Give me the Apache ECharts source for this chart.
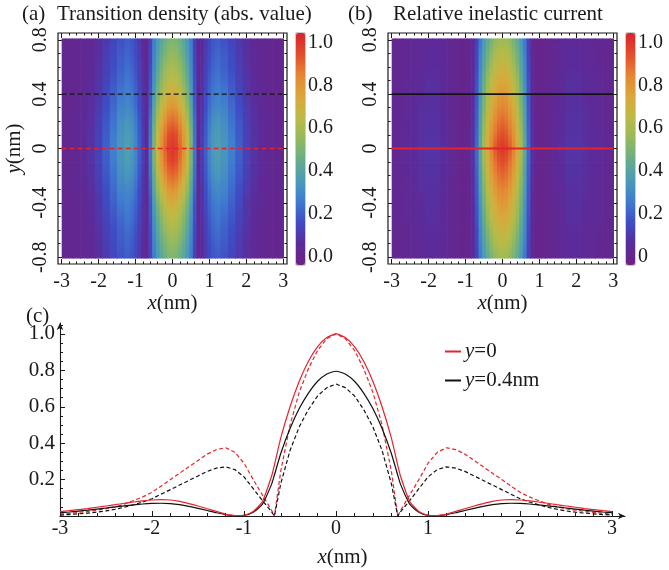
<!DOCTYPE html>
<html><head><meta charset="utf-8">
<script src="https://cdn.jsdelivr.net/npm/echarts@6/dist/echarts.min.js"></script>
<style>html,body{margin:0;padding:0;background:#fff}#c{width:669px;height:570px}</style>
</head><body><div id="c"></div>
<script>
// ---------------- data ----------------
const heatX = [-3,-2.8,-2.6,-2.4,-2.2,-2,-1.8,-1.6,-1.4,-1.2,-1.1,-1,-0.9,-0.8,-0.7,-0.6,-0.5,-0.4,-0.3,-0.2,-0.1,0,0.1,0.2,0.3,0.4,0.5,0.6,0.7,0.8,0.9,1,1.1,1.2,1.4,1.6,1.8,2,2.2,2.4,2.6,2.8,3];
const heatY = [-0.8,-0.7,-0.6,-0.5,-0.4,-0.3,-0.2,-0.1,0,0.1,0.2,0.3,0.4,0.5,0.6,0.7,0.8];
// transition density |rho|(x,y), one row per heatY value
const densityRows = [
[.01,.01,.02,.03,.04,.07,.10,.14,.17,.19,.18,.15,.10,.06,.02,.13,.26,.35,.41,.46,.50,.51,.50,.46,.41,.35,.26,.13,.02,.06,.10,.15,.18,.19,.17,.14,.10,.07,.04,.03,.02,.01,.01],
[.01,.01,.02,.03,.05,.07,.11,.15,.19,.21,.19,.16,.11,.06,.02,.14,.28,.37,.45,.50,.54,.55,.54,.50,.45,.37,.28,.14,.02,.06,.11,.16,.19,.21,.19,.15,.11,.07,.05,.03,.02,.01,.01],
[.01,.01,.02,.03,.05,.08,.12,.16,.20,.23,.21,.17,.12,.07,.02,.15,.30,.41,.49,.55,.59,.60,.59,.55,.49,.41,.30,.15,.02,.07,.12,.17,.21,.23,.20,.16,.12,.08,.05,.03,.02,.01,.01],
[.01,.01,.02,.03,.06,.09,.13,.18,.22,.25,.23,.19,.13,.08,.02,.17,.33,.45,.53,.60,.64,.66,.64,.60,.53,.45,.33,.17,.02,.08,.13,.19,.23,.25,.22,.18,.13,.09,.06,.03,.02,.01,.01],
[.01,.01,.02,.04,.06,.09,.15,.20,.25,.27,.25,.21,.15,.08,.02,.18,.36,.49,.59,.66,.71,.73,.71,.66,.59,.49,.36,.18,.02,.08,.15,.21,.25,.27,.25,.20,.15,.09,.06,.04,.02,.01,.01],
[.01,.02,.03,.04,.07,.11,.16,.22,.28,.30,.28,.23,.16,.09,.02,.20,.41,.55,.66,.74,.79,.81,.79,.74,.66,.55,.41,.20,.02,.09,.16,.23,.28,.30,.28,.22,.16,.11,.07,.04,.03,.02,.01],
[.01,.02,.03,.05,.08,.12,.18,.24,.31,.34,.32,.26,.18,.10,.03,.23,.45,.61,.73,.82,.88,.90,.88,.82,.73,.61,.45,.23,.03,.10,.18,.26,.32,.34,.31,.24,.18,.12,.08,.05,.03,.02,.01],
[.01,.02,.03,.05,.08,.13,.19,.26,.33,.36,.34,.28,.19,.11,.03,.24,.49,.66,.79,.88,.95,.97,.95,.88,.79,.66,.49,.24,.03,.11,.19,.28,.34,.36,.33,.26,.19,.13,.08,.05,.03,.02,.01],
[.01,.02,.03,.05,.09,.13,.20,.27,.34,.38,.35,.29,.20,.12,.03,.25,.50,.68,.81,.91,.98,1.00,.98,.91,.81,.68,.50,.25,.03,.12,.20,.29,.35,.38,.34,.27,.20,.13,.09,.05,.03,.02,.01],
[.01,.02,.03,.05,.08,.13,.19,.26,.33,.36,.34,.28,.19,.11,.03,.24,.49,.66,.79,.88,.95,.97,.95,.88,.79,.66,.49,.24,.03,.11,.19,.28,.34,.36,.33,.26,.19,.13,.08,.05,.03,.02,.01],
[.01,.02,.03,.05,.08,.12,.18,.24,.31,.34,.32,.26,.18,.10,.03,.23,.45,.61,.73,.82,.88,.90,.88,.82,.73,.61,.45,.23,.03,.10,.18,.26,.32,.34,.31,.24,.18,.12,.08,.05,.03,.02,.01],
[.01,.02,.03,.04,.07,.11,.16,.22,.28,.30,.28,.23,.16,.09,.02,.20,.41,.55,.66,.74,.79,.81,.79,.74,.66,.55,.41,.20,.02,.09,.16,.23,.28,.30,.28,.22,.16,.11,.07,.04,.03,.02,.01],
[.01,.01,.02,.04,.06,.09,.15,.20,.25,.27,.25,.21,.15,.08,.02,.18,.36,.49,.59,.66,.71,.73,.71,.66,.59,.49,.36,.18,.02,.08,.15,.21,.25,.27,.25,.20,.15,.09,.06,.04,.02,.01,.01],
[.01,.01,.02,.03,.06,.09,.13,.18,.22,.25,.23,.19,.13,.08,.02,.17,.33,.45,.53,.60,.64,.66,.64,.60,.53,.45,.33,.17,.02,.08,.13,.19,.23,.25,.22,.18,.13,.09,.06,.03,.02,.01,.01],
[.01,.01,.02,.03,.05,.08,.12,.16,.20,.23,.21,.17,.12,.07,.02,.15,.30,.41,.49,.55,.59,.60,.59,.55,.49,.41,.30,.15,.02,.07,.12,.17,.21,.23,.20,.16,.12,.08,.05,.03,.02,.01,.01],
[.01,.01,.02,.03,.05,.07,.11,.15,.19,.21,.19,.16,.11,.06,.02,.14,.28,.37,.45,.50,.54,.55,.54,.50,.45,.37,.28,.14,.02,.06,.11,.16,.19,.21,.19,.15,.11,.07,.05,.03,.02,.01,.01],
[.01,.01,.02,.03,.04,.07,.10,.14,.17,.19,.18,.15,.10,.06,.02,.13,.26,.35,.41,.46,.50,.51,.50,.46,.41,.35,.26,.13,.02,.06,.10,.15,.18,.19,.17,.14,.10,.07,.04,.03,.02,.01,.01]
];
// relative inelastic current (x,y), one row per heatY value
const currentRows = [
[.01,.02,.03,.04,.04,.05,.05,.04,.02,.01,0,0,.01,.05,.13,.25,.35,.43,.49,.54,.57,.58,.57,.54,.49,.43,.35,.25,.13,.05,.01,0,0,.01,.02,.04,.05,.05,.04,.04,.03,.02,.01],
[.02,.02,.03,.04,.05,.06,.06,.04,.03,.01,0,0,.02,.05,.14,.28,.38,.47,.54,.60,.63,.64,.63,.60,.54,.47,.38,.28,.14,.05,.02,0,0,.01,.03,.04,.06,.06,.05,.04,.03,.02,.02],
[.02,.02,.03,.04,.05,.06,.06,.05,.03,.01,0,0,.02,.06,.15,.30,.41,.51,.59,.64,.68,.69,.68,.64,.59,.51,.41,.30,.15,.06,.02,0,0,.01,.03,.05,.06,.06,.05,.04,.03,.02,.02],
[.02,.03,.04,.05,.06,.07,.07,.05,.03,.01,0,0,.02,.06,.17,.32,.45,.56,.64,.70,.74,.75,.74,.70,.64,.56,.45,.32,.17,.06,.02,0,0,.01,.03,.05,.07,.07,.06,.05,.04,.03,.02],
[.02,.03,.04,.05,.06,.07,.07,.05,.03,.01,0,0,.02,.06,.18,.34,.48,.59,.68,.74,.78,.80,.78,.74,.68,.59,.48,.34,.18,.06,.02,0,0,.01,.03,.05,.07,.07,.06,.05,.04,.03,.02],
[.02,.03,.04,.05,.07,.07,.07,.06,.03,.01,0,0,.02,.07,.19,.37,.51,.63,.72,.79,.83,.85,.83,.79,.72,.63,.51,.37,.19,.07,.02,0,0,.01,.03,.06,.07,.07,.07,.05,.04,.03,.02],
[.02,.03,.04,.06,.07,.08,.08,.06,.04,.01,0,0,.02,.07,.20,.39,.54,.67,.77,.84,.88,.90,.88,.84,.77,.67,.54,.39,.20,.07,.02,0,0,.01,.04,.06,.08,.08,.07,.06,.04,.03,.02],
[.02,.03,.05,.06,.07,.08,.08,.06,.04,.01,0,0,.02,.08,.21,.41,.57,.70,.81,.88,.93,.95,.93,.88,.81,.70,.57,.41,.21,.08,.02,0,0,.01,.04,.06,.08,.08,.07,.06,.05,.03,.02],
[.02,.04,.05,.06,.08,.09,.09,.07,.04,.01,0,0,.03,.08,.22,.43,.60,.74,.85,.93,.98,1.00,.98,.93,.85,.74,.60,.43,.22,.08,.03,0,0,.01,.04,.07,.09,.09,.08,.06,.05,.04,.02],
[.02,.03,.05,.06,.07,.08,.08,.06,.04,.01,0,0,.02,.08,.21,.41,.57,.70,.81,.88,.93,.95,.93,.88,.81,.70,.57,.41,.21,.08,.02,0,0,.01,.04,.06,.08,.08,.07,.06,.05,.03,.02],
[.02,.03,.04,.06,.07,.08,.08,.06,.04,.01,0,0,.02,.07,.20,.39,.54,.67,.77,.84,.88,.90,.88,.84,.77,.67,.54,.39,.20,.07,.02,0,0,.01,.04,.06,.08,.08,.07,.06,.04,.03,.02],
[.02,.03,.04,.05,.07,.07,.07,.06,.03,.01,0,0,.02,.07,.19,.37,.51,.63,.72,.79,.83,.85,.83,.79,.72,.63,.51,.37,.19,.07,.02,0,0,.01,.03,.06,.07,.07,.07,.05,.04,.03,.02],
[.02,.03,.04,.05,.06,.07,.07,.05,.03,.01,0,0,.02,.06,.18,.34,.48,.59,.68,.74,.78,.80,.78,.74,.68,.59,.48,.34,.18,.06,.02,0,0,.01,.03,.05,.07,.07,.06,.05,.04,.03,.02],
[.02,.03,.04,.05,.06,.07,.07,.05,.03,.01,0,0,.02,.06,.17,.32,.45,.56,.64,.70,.74,.75,.74,.70,.64,.56,.45,.32,.17,.06,.02,0,0,.01,.03,.05,.07,.07,.06,.05,.04,.03,.02],
[.02,.02,.03,.04,.05,.06,.06,.05,.03,.01,0,0,.02,.06,.15,.30,.41,.51,.59,.64,.68,.69,.68,.64,.59,.51,.41,.30,.15,.06,.02,0,0,.01,.03,.05,.06,.06,.05,.04,.03,.02,.02],
[.02,.02,.03,.04,.05,.06,.06,.04,.03,.01,0,0,.02,.05,.14,.28,.38,.47,.54,.60,.63,.64,.63,.60,.54,.47,.38,.28,.14,.05,.02,0,0,.01,.03,.04,.06,.06,.05,.04,.03,.02,.02],
[.01,.02,.03,.04,.04,.05,.05,.04,.02,.01,0,0,.01,.05,.13,.25,.35,.43,.49,.54,.57,.58,.57,.54,.49,.43,.35,.25,.13,.05,.01,0,0,.01,.02,.04,.05,.05,.04,.04,.03,.02,.01]
];
// cut lines (y levels) shown on the maps
const cutLevels = [0.4, 0];
const cutXRange = [-3, 3];
// panel (c) profiles
const lineX = [-3,-2.9,-2.8,-2.7,-2.6,-2.5,-2.4,-2.3,-2.2,-2.1,-2,-1.9,-1.8,-1.7,-1.6,-1.5,-1.4,-1.3,-1.2,-1.1,-1,-0.9,-0.8,-0.7,-0.67,-0.6,-0.5,-0.4,-0.3,-0.2,-0.1,0,0.1,0.2,0.3,0.4,0.5,0.6,0.67,0.7,0.8,0.9,1,1.1,1.2,1.3,1.4,1.5,1.6,1.7,1.8,1.9,2,2.1,2.2,2.3,2.4,2.5,2.6,2.7,2.8,2.9,3];
const currentY0 = [.024,.029,.035,.041,.048,.055,.062,.070,.077,.083,.088,.090,.088,.080,.068,.055,.040,.025,.010,.002,.004,.025,.080,.220,.280,.430,.600,.740,.850,.930,.980,1.000,.980,.930,.850,.740,.600,.430,.280,.220,.080,.025,.004,.002,.010,.025,.040,.055,.068,.080,.088,.090,.088,.083,.077,.070,.062,.055,.048,.041,.035,.029,.024];
const densityY0 = [.010,.014,.020,.025,.032,.040,.050,.065,.085,.105,.130,.165,.200,.235,.270,.305,.340,.365,.375,.350,.290,.200,.115,.030,.000,.250,.500,.680,.810,.910,.975,1.000,.975,.910,.810,.680,.500,.250,.000,.030,.115,.200,.290,.350,.375,.365,.340,.305,.270,.235,.200,.165,.130,.105,.085,.065,.050,.040,.032,.025,.020,.014,.010];
const currentY04 = [.018,.022,.027,.032,.038,.044,.050,.056,.061,.066,.069,.070,.068,.062,.053,.042,.030,.018,.008,.002,.003,.020,.065,.175,.225,.345,.480,.590,.675,.740,.780,.795,.780,.740,.675,.590,.480,.345,.225,.175,.065,.020,.003,.002,.008,.018,.030,.042,.053,.062,.068,.070,.069,.066,.061,.056,.050,.044,.038,.032,.027,.022,.018];
const densityY04 = [.005,.008,.012,.016,.021,.028,.037,.048,.062,.077,.095,.120,.145,.170,.195,.220,.245,.263,.270,.255,.215,.150,.085,.022,.000,.180,.360,.490,.585,.660,.705,.725,.705,.660,.585,.490,.360,.180,.000,.022,.085,.150,.215,.255,.270,.263,.245,.220,.195,.170,.145,.120,.095,.077,.062,.048,.037,.028,.021,.016,.012,.008,.005];
// tick labels
const mapXTicks = [-3,-2,-1,0,1,2,3];
const mapYTicks = [-0.8,-0.4,0,0.4,0.8];
const barTicks = [0,0.2,0.4,0.6,0.8,1.0];
const cXTicks = [-3,-2,-1,0,1,2,3];
const cYTicks = [0.2,0.4,0.6,0.8,1.0];
const legendNames = ['y=0','y=0.4nm'];

// ---------------- rendering ----------------
const FONT = "'Liberation Serif','Times New Roman',serif";
const INK = '#1a1a1a';
const RED = '#E5232B';
const RAINBOW = ['#6E2184','#5B2B9A','#3F4BC4','#3F7BD0','#4A9BB8','#67AD8A','#94BA5C','#BEBA45','#DAA73B','#E58533','#E24D2C','#D8232A'];
function steps(a,b,s){const r=[];for(let k=0;a+k*s<=b+1e-9;k++)r.push(Math.round((a+k*s)*1000)/1000);return r;}
function without(all,major){return all.filter(v=>!major.some(m=>Math.abs(m-v)<1e-6));}
function edges(vals,lo,hi){return vals.map((v,i)=>[i===0?lo:(vals[i-1]+v)/2, i===vals.length-1?hi:(v+vals[i+1])/2]);}
const xAxes=[], yAxes=[];
function tickAxis(list,gridIndex,pos,min,max,ticks,len,extra){
  list.push(Object.assign({
    type:'value',gridIndex,position:pos,min,max,
    axisLine:{show:false,onZero:false},
    axisTick:{show:true,inside:true,length:len,customValues:ticks,lineStyle:{color:INK,width:1}},
    axisLabel:{show:false},splitLine:{show:false},minorTick:{show:false}
  },extra||{}));
  return list.length-1;
}
const lbl = (size,extra)=>Object.assign({show:true,fontFamily:FONT,fontSize:size,color:INK},extra||{});
const nameStyle = {fontFamily:FONT,fontSize:21,color:INK,rich:{i:{fontFamily:FONT,fontSize:21,fontStyle:'italic',color:INK}}};

const grids = [
  {left:58,top:33,width:229,height:231},
  {left:388,top:33,width:229,height:231},
  {left:296,top:33,width:9,height:232},
  {left:626,top:33,width:9,height:232},
  {left:60,top:323,width:565,height:193}
].map(g=>Object.assign({show:false,containLabel:false,outerBoundsMode:'none'},g));
[0,1].forEach(i=>Object.assign(grids[i],{show:true,borderColor:INK,borderWidth:1.2}));
[2,3].forEach(i=>Object.assign(grids[i],{show:true,borderColor:'#555',borderWidth:0.6}));

const mapXMinor = without(steps(-3,3,0.2),mapXTicks);
const mapYMinor = without(steps(-0.8,0.8,0.1),mapYTicks);
const mapAx = [];
[0,1].forEach(g=>{
  const xi = tickAxis(xAxes,g,'bottom',-3.1,3.1,mapXTicks,5,{
    axisLabel:lbl(20,{customValues:mapXTicks,margin:8,formatter:v=>String(v)}),
    name:'{i|x}(nm)',nameLocation:'middle',nameGap:28,nameTextStyle:nameStyle});
  tickAxis(xAxes,g,'bottom',-3.1,3.1,mapXMinor,2.5);
  tickAxis(xAxes,g,'top',-3.1,3.1,mapXTicks,5);
  tickAxis(xAxes,g,'top',-3.1,3.1,mapXMinor,2.5);
  const yExtra = {axisLabel:lbl(20,{customValues:mapYTicks,margin:7,rotate:90,formatter:v=>v===0?'0':v.toFixed(1)})};
  if(g===0){Object.assign(yExtra,{name:'{i|y}(nm)',nameLocation:'middle',nameGap:33,nameRotate:90,nameTextStyle:nameStyle});}
  const yi = tickAxis(yAxes,g,'left',-0.85,0.85,mapYTicks,5,yExtra);
  tickAxis(yAxes,g,'left',-0.85,0.85,mapYMinor,2.5);
  tickAxis(yAxes,g,'right',-0.85,0.85,mapYTicks,5);
  tickAxis(yAxes,g,'right',-0.85,0.85,mapYMinor,2.5);
  mapAx.push([xi,yi]);
});
[2,3].forEach((g,k)=>{
  tickAxis(xAxes,g,'bottom',0,1,[],0,{axisTick:{show:false}});
  tickAxis(yAxes,g,'right',-0.04,1.045,barTicks,0,{axisTick:{show:false},
    axisLabel:lbl(20,{customValues:barTicks,margin:3,formatter:v=>k===0?v.toFixed(1):(v===0?'0':v.toFixed(1))})});
});
const cx = tickAxis(xAxes,4,'bottom',-3,3.14,cXTicks,5,{
  axisLine:{show:true,onZero:false,symbol:['none','arrow'],symbolSize:[5,7],lineStyle:{color:INK,width:1.1}},
  axisLabel:lbl(20,{customValues:cXTicks,margin:3,formatter:v=>String(v)}),
  name:'{i|x}(nm)',nameLocation:'middle',nameGap:31,nameTextStyle:nameStyle});
tickAxis(xAxes,4,'bottom',-3,3.14,without(steps(-3,3,0.2),cXTicks),3);
const cy = tickAxis(yAxes,4,'left',0,1.06,cYTicks,5,{
  axisLine:{show:true,onZero:false,symbol:['none','arrow'],symbolSize:[5,7],lineStyle:{color:INK,width:1.1}},
  axisLabel:lbl(21,{customValues:cYTicks,margin:5,formatter:v=>v.toFixed(1)})});
tickAxis(yAxes,4,'left',0,1.06,without(steps(0.05,1.05,0.05),cYTicks),3);

// heat map: one cell per (heatX, heatY) value, shaded vertically toward the next row's colour
function heatSeries(name,rows,ax){
  const nx=heatX.length, ny=heatY.length, xe=edges(heatX,-3,3), yLo=-0.81, yHi=0.81;
  const data=[];
  rows.forEach((row,j)=>row.forEach((v,i)=>data.push([heatX[i],heatY[j],v])));
  return {name,type:'custom',coordinateSystem:'cartesian2d',xAxisIndex:ax[0],yAxisIndex:ax[1],
    dimensions:['x','y','v'],encode:{x:0,y:1},silent:true,animation:false,data,
    renderItem:(params,api)=>{
      const idx=params.dataIndex, i=idx%nx, j=Math.floor(idx/nx);
      const c0=api.visual('color');
      const x0=api.coord([xe[i][0],0])[0], x1=api.coord([xe[i][1],0])[0], w=x1-x0+0.7;
      const Y=v=>api.coord([0,v])[1];
      const kids=[];
      if(j<ny-1){
        const c1=api.visual('color',idx+nx), ya=Y(heatY[j]), yb=Y(heatY[j+1]);
        kids.push({type:'rect',shape:{x:x0,y:yb,width:w,height:ya-yb+0.7},
          style:{fill:new echarts.graphic.LinearGradient(0,0,0,1,[{offset:0,color:c1},{offset:1,color:c0}])}});
      }
      if(j===0){const ya=Y(yLo), yb=Y(heatY[0]); kids.push({type:'rect',shape:{x:x0,y:yb,width:w,height:ya-yb},style:{fill:c0}});}
      if(j===ny-1){const ya=Y(heatY[j])+0.7, yb=Y(yHi); kids.push({type:'rect',shape:{x:x0,y:yb,width:w,height:ya-yb},style:{fill:c0}});}
      return {type:'group',children:kids};
    }};
}
function cutSeries(ax,dashed){
  return cutLevels.map(lv=>({type:'line',xAxisIndex:ax[0],yAxisIndex:ax[1],silent:true,animation:false,symbol:'none',z:5,
    data:cutXRange.map(x=>[x,lv]),
    lineStyle:{color:lv===0?RED:'#151515',width:dashed?1.4:1.8,type:dashed?[5,3]:'solid'}}));
}
function profile(name,vals,color,dashed){
  return {name,type:'line',xAxisIndex:cx,yAxisIndex:cy,symbol:'none',animation:false,silent:true,
    smooth:dashed?false:0.2,
    data:lineX.map((x,i)=>[x,vals[i]]),itemStyle:{color},
    lineStyle:{color,width:1.2,type:dashed?[4,2.5]:'solid'}};
}
const series = [
  heatSeries('density',densityRows,mapAx[0]),
  ...cutSeries(mapAx[0],true),
  heatSeries('current',currentRows,mapAx[1]),
  ...cutSeries(mapAx[1],false),
  profile('dens0',densityY0,RED,true),
  profile('dens04',densityY04,'#111',true),
  profile(legendNames[1],currentY04,'#111',false),
  profile(legendNames[0],currentY0,RED,false)
];
const ttl = (text,left,top)=>({text,left,top,padding:0,textStyle:{fontFamily:FONT,fontSize:21,fontWeight:'normal',color:INK}});
const option = {
  backgroundColor:'#fff',animation:false,
  title:[ttl('(a)',22,4),ttl('Transition density (abs. value)',57,4),ttl('(b)',348,4),ttl('Relative inelastic current',393,4),ttl('(c)',26,306)],
  grid:grids,xAxis:xAxes,yAxis:yAxes,
  visualMap:[
    {type:'continuous',seriesIndex:0,dimension:2,min:-0.04,max:1.045,inRange:{color:RAINBOW},left:296,top:33,itemWidth:9,itemHeight:232,calculable:false,padding:0,orient:'vertical',hoverLink:false},
    {type:'continuous',seriesIndex:3,dimension:2,min:-0.04,max:1.045,inRange:{color:RAINBOW},left:626,top:33,itemWidth:9,itemHeight:232,calculable:false,padding:0,orient:'vertical',hoverLink:false}
  ],
  legend:{data:legendNames,orient:'vertical',left:440,top:336,itemWidth:16,itemHeight:2,itemGap:8,icon:'rect',selectedMode:false,
    formatter:n=>n.replace(/^y/,'{i|y}'),
    textStyle:{fontFamily:FONT,fontSize:21,color:INK,padding:[0,0,0,-1],rich:{i:{fontFamily:FONT,fontSize:21,fontStyle:'italic',color:INK}}}},
  series
};
const chart = echarts.init(document.getElementById('c'),null,{renderer:'canvas'});
chart.setOption(option);
</script></body></html>
